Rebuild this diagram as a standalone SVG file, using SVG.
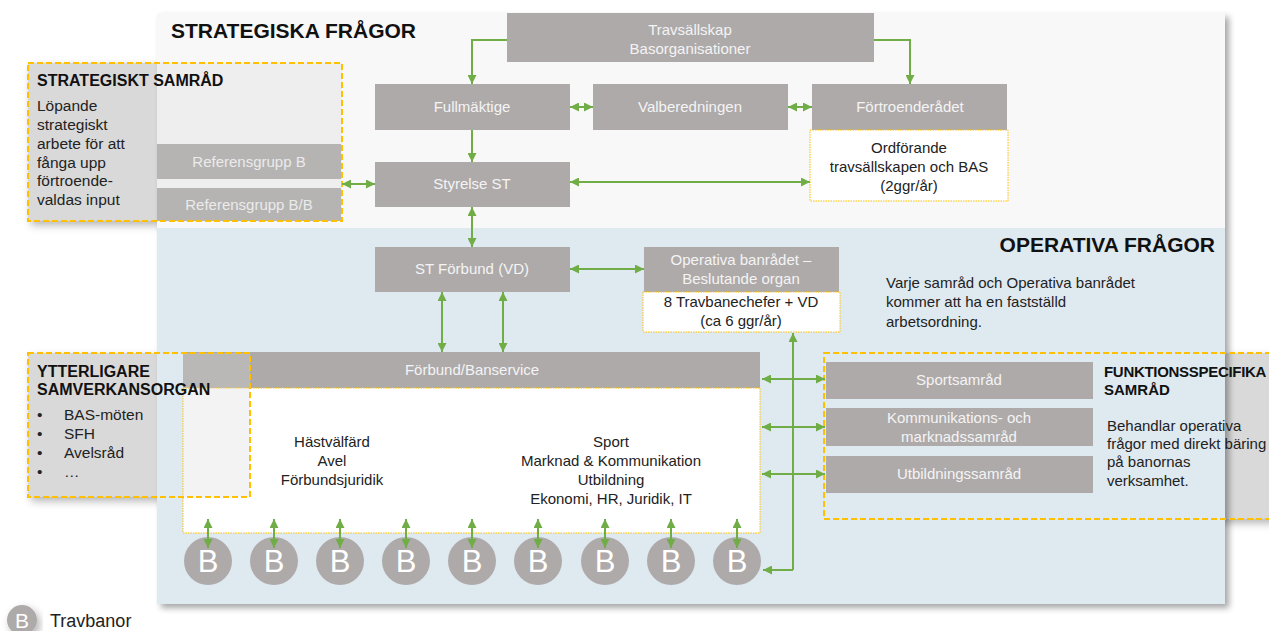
<svg xmlns="http://www.w3.org/2000/svg" width="1269" height="631" viewBox="0 0 1269 631">
<defs>
<filter id="sh" x="-10%" y="-10%" width="130%" height="130%"><feDropShadow dx="4" dy="4" stdDeviation="3" flood-color="#000" flood-opacity="0.35"/></filter>
<filter id="sh2" x="-20%" y="-20%" width="140%" height="140%"><feDropShadow dx="3" dy="4" stdDeviation="4" flood-color="#000" flood-opacity="0.3"/></filter>
<marker id="ah" viewBox="0 0 10 10" refX="10" refY="5" markerWidth="9" markerHeight="9" markerUnits="userSpaceOnUse" orient="auto-start-reverse"><path d="M0,0 L10,5 L0,10 z" fill="#70ad47"/></marker>
<style>
text{font-family:"Liberation Sans",Arial,sans-serif;}
.box{fill:#aeaaaa;}
.wt{fill:#f4f4f4;font-size:15px;text-anchor:middle;}
.dk{fill:#222;font-size:15px;}
.dkl{fill:#222;font-size:15.5px;}
.dkc{fill:#222;font-size:15px;text-anchor:middle;}
.ttl{fill:#111;font-size:21px;font-weight:bold;}
.hd{fill:#111;font-size:16px;font-weight:bold;}
.dash{fill:none;stroke:#ffc000;stroke-width:2;stroke-dasharray:6 3;}
.dot{fill:#fff;stroke:#ffc000;stroke-width:1;stroke-dasharray:1.5 1;}
.c{fill:none;stroke:#70ad47;stroke-width:2;}
.a2{marker-start:url(#ah);marker-end:url(#ah);}
.a1{marker-end:url(#ah);}
.side{fill:#d9d9d9;}
.bt{fill:#fff;font-size:31px;text-anchor:middle;}
</style>
</defs>
<rect width="1269" height="631" fill="#fff"/>
<g id="side-backs">
<rect class="side" x="28" y="63" width="314" height="158" filter="url(#sh2)"/>
<rect class="side" x="28" y="353" width="222" height="144" filter="url(#sh2)"/>
<rect class="side" x="824" y="353" width="460" height="166" filter="url(#sh2)"/>
</g>
<g id="panel">
<rect x="157" y="13" width="1068" height="591" fill="#f8f8f8" filter="url(#sh)"/>
<rect x="157" y="228" width="1068" height="376" fill="#dfe9f0"/>
<text class="ttl" x="171" y="38">STRATEGISKA FRÅGOR</text>
<text class="ttl" x="1215" y="252" text-anchor="end">OPERATIVA FRÅGOR</text>
<text class="dk" x="886" y="288">Varje samråd och Operativa banrådet</text>
<text class="dk" x="886" y="307">kommer att ha en fastställd</text>
<text class="dk" x="886" y="327">arbetsordning.</text>
</g>
<g id="travsallskap"><rect class="box" x="507" y="13" width="367" height="49"/><text class="wt" x="690" y="35">Travsällskap</text><text class="wt" x="690" y="54">Basorganisationer</text></g>
<g id="fullmaktige"><rect class="box" x="375" y="84" width="195" height="46"/><text class="wt" x="472" y="112">Fullmäktige</text></g>
<g id="valberedningen"><rect class="box" x="593" y="84" width="195" height="46"/><text class="wt" x="690" y="112">Valberedningen</text></g>
<g id="fortroenderadet"><rect class="box" x="812" y="84" width="195" height="46"/><text class="wt" x="910" y="112">Förtroenderådet</text>
<rect class="dot" x="810" y="130" width="198" height="71"/><text class="dkc" x="909" y="153">Ordförande</text><text class="dkc" x="909" y="172">travsällskapen och BAS</text><text class="dkc" x="909" y="191">(2ggr/år)</text></g>
<g id="styrelse"><rect class="box" x="375" y="162" width="195" height="45"/><text class="wt" x="472" y="189">Styrelse ST</text></g>
<g id="referensgrupper"><rect class="box" x="157" y="144" width="184" height="35"/><text class="wt" x="249" y="167">Referensgrupp B</text>
<rect class="box" x="157" y="188" width="184" height="33"/><text class="wt" x="249" y="210">Referensgrupp B/B</text></g>
<g id="stforbund"><rect class="box" x="375" y="247" width="195" height="45"/><text class="wt" x="472" y="274">ST Förbund (VD)</text></g>
<g id="operativa-banradet"><rect class="box" x="644" y="247" width="195" height="45"/><text class="wt" x="741" y="265">Operativa banrådet –</text><text class="wt" x="741" y="284">Beslutande organ</text>
<rect class="dot" x="643" y="292" width="197" height="40"/><text class="dkc" x="741" y="307">8 Travbanechefer + VD</text><text class="dkc" x="741" y="326">(ca 6 ggr/år)</text></g>
<g id="forbund-banservice"><rect class="box" x="183" y="352" width="577" height="36"/><text class="wt" x="472" y="375">Förbund/Banservice</text>
<rect class="dot" x="183" y="388" width="577" height="145"/>
<text class="dkc" x="332" y="447">Hästvälfärd</text><text class="dkc" x="332" y="466">Avel</text><text class="dkc" x="332" y="485">Förbundsjuridik</text>
<text class="dkc" x="611" y="447">Sport</text><text class="dkc" x="611" y="466">Marknad &amp; Kommunikation</text><text class="dkc" x="611" y="485">Utbildning</text><text class="dkc" x="611" y="504">Ekonomi, HR, Juridik, IT</text></g>
<g id="samrad"><rect class="box" x="826" y="362" width="267" height="37"/><text class="wt" x="959" y="385">Sportsamråd</text>
<rect class="box" x="826" y="408" width="267" height="38"/><text class="wt" x="959" y="423">Kommunikations- och</text><text class="wt" x="959" y="442">marknadssamråd</text>
<rect class="box" x="826" y="456" width="267" height="37"/><text class="wt" x="959" y="479">Utbildningssamråd</text></g>
<g id="banor">
<circle class="box" cx="208" cy="561" r="24"/><text class="bt" x="208" y="572">B</text>
<circle class="box" cx="274" cy="561" r="24"/><text class="bt" x="274" y="572">B</text>
<circle class="box" cx="340" cy="561" r="24"/><text class="bt" x="340" y="572">B</text>
<circle class="box" cx="406" cy="561" r="24"/><text class="bt" x="406" y="572">B</text>
<circle class="box" cx="472" cy="561" r="24"/><text class="bt" x="472" y="572">B</text>
<circle class="box" cx="538" cy="561" r="24"/><text class="bt" x="538" y="572">B</text>
<circle class="box" cx="605" cy="561" r="24"/><text class="bt" x="605" y="572">B</text>
<circle class="box" cx="671" cy="561" r="24"/><text class="bt" x="671" y="572">B</text>
<circle class="box" cx="737" cy="561" r="24"/><text class="bt" x="737" y="572">B</text>
</g>
<g id="strategiskt-samrad">
<rect x="157" y="63" width="185" height="158" fill="#d0d0d0" opacity="0.25"/>
<rect class="dash" x="28" y="63" width="314" height="158"/>
<text class="hd" x="37" y="86">STRATEGISKT SAMRÅD</text>
<text class="dkl" x="37" y="111">Löpande</text><text class="dkl" x="37" y="130">strategiskt</text><text class="dkl" x="37" y="149">arbete för att</text><text class="dkl" x="37" y="168">fånga upp</text><text class="dkl" x="37" y="186">förtroende-</text><text class="dkl" x="37" y="205">valdas input</text>
</g>
<g id="ytterligare">
<rect x="183" y="353" width="67" height="144" fill="#d8d8d8" opacity="0.3"/>
<rect class="dash" x="28" y="353" width="222" height="144"/>
<text class="hd" x="37" y="377">YTTERLIGARE</text><text class="hd" x="37" y="395">SAMVERKANSORGAN</text>
<text class="dkl" x="37" y="420">•</text><text class="dkl" x="64" y="420">BAS-möten</text>
<text class="dkl" x="37" y="439">•</text><text class="dkl" x="64" y="439">SFH</text>
<text class="dkl" x="37" y="458">•</text><text class="dkl" x="64" y="458">Avelsråd</text>
<text class="dkl" x="37" y="477">•</text><text class="dkl" x="64" y="477">…</text>
</g>
<g id="funktionsspecifika">
<rect class="dash" x="824" y="353" width="460" height="166"/>
<text class="hd" x="1104" y="377" style="font-size:15px;letter-spacing:-0.3px">FUNKTIONSSPECIFIKA</text><text class="hd" x="1104" y="395" style="font-size:15px">SAMRÅD</text>
<text class="dk" x="1107" y="431">Behandlar operativa</text><text class="dk" x="1107" y="449">frågor med direkt bäring</text><text class="dk" x="1107" y="467">på banornas</text><text class="dk" x="1107" y="486">verksamhet.</text>
</g>
<g id="connectors">
<path class="c a1" d="M507,40 H472 V84"/>
<path class="c a1" d="M874,40 H910 V84"/>
<path class="c a2" d="M570,107 H593"/>
<path class="c a2" d="M788,107 H812"/>
<path class="c a1" d="M472,130 V162"/>
<path class="c a2" d="M570,182 H810"/>
<path class="c a2" d="M342,184 H375"/>
<path class="c a2" d="M472,207 V247"/>
<path class="c a2" d="M570,269 H644"/>
<path class="c a2" d="M442,292 V352"/>
<path class="c a2" d="M503,292 V352"/>
<path class="c a1" d="M793,570 V333"/>
<path class="c a1" d="M793,570 H763"/>
<path class="c a2" d="M762,379 H825"/>
<path class="c a2" d="M762,427 H825"/>
<path class="c a2" d="M762,474 H825"/>
<path class="c a2" d="M208,519 V548"/>
<path class="c a2" d="M274,519 V548"/>
<path class="c a2" d="M340,519 V548"/>
<path class="c a2" d="M406,519 V548"/>
<path class="c a2" d="M472,519 V548"/>
<path class="c a2" d="M538,519 V548"/>
<path class="c a2" d="M605,519 V548"/>
<path class="c a2" d="M671,519 V548"/>
<path class="c a2" d="M737,519 V548"/>
</g>
<g id="legend">
<circle class="box" cx="22" cy="620" r="15" filter="url(#sh2)"/><text class="bt" x="22" y="628" style="font-size:21px">B</text>
<text x="50" y="627" fill="#222" font-size="18">Travbanor</text>
</g>
</svg>
